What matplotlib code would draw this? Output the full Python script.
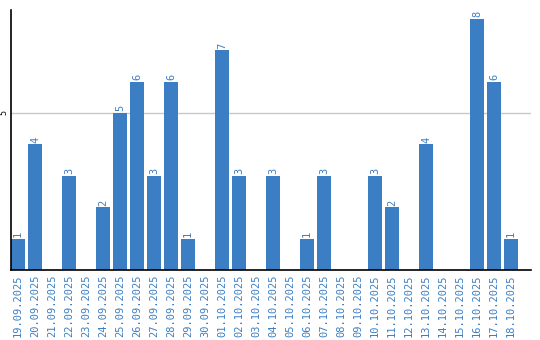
import matplotlib
matplotlib.use('Agg')
import matplotlib.pyplot as plt

# Datos
dates = ['19.09.2025', '20.09.2025', '21.09.2025', '22.09.2025', '23.09.2025',
         '24.09.2025', '25.09.2025', '26.09.2025', '27.09.2025', '28.09.2025',
         '29.09.2025', '30.09.2025', '01.10.2025', '02.10.2025', '03.10.2025',
         '04.10.2025', '05.10.2025', '06.10.2025', '07.10.2025', '08.10.2025',
         '09.10.2025', '10.10.2025', '11.10.2025', '12.10.2025', '13.10.2025',
         '14.10.2025', '15.10.2025', '16.10.2025', '17.10.2025', '18.10.2025']
counts = [1, 4, 0, 3, 0, 2, 5, 6, 3, 6, 1, 0, 7, 3, 0,
          3, 0, 1, 3, 0, 0, 3, 2, 0, 4, 0, 0, 8, 6, 1]

blue = '#3b7ec3'

fig = plt.figure(figsize=(5.4, 3.4), dpi=100)
ax = fig.add_axes([11 / 540, 70 / 340, 520 / 540, 260 / 340])

x = list(range(len(dates)))
ax.bar(x, counts, width=0.82, color=blue, zorder=2)

# Etiquetas de valor sobre cada barra
for xi, v in zip(x, counts):
    if v > 0:
        ax.text(xi, v + 0.05, str(v), rotation=90, ha='center', va='bottom',
                color=blue, fontsize=7.5, family='DejaVu Sans Mono')

ax.set_xlim(-0.41, 30.18)
ax.set_ylim(0, 8.28)
ax.set_yticks([5])
ax.set_yticklabels(['5'], rotation=90, va='center', fontsize=6,
                   family='DejaVu Sans Mono')
ax.yaxis.grid(True, color='#c8c8c8', linewidth=1, zorder=0)
ax.set_xticks(x)
ax.set_xticklabels(dates, rotation=90, color=blue, fontsize=7.5,
                   family='DejaVu Sans Mono')
ax.tick_params(axis='both', length=0, pad=3)
ax.tick_params(axis='y', pad=2)

for side in ['top', 'right']:
    ax.spines[side].set_visible(False)
ax.spines['left'].set_linewidth(1.2)
ax.spines['bottom'].set_linewidth(1.2)

fig.savefig('out.png', dpi=100)
